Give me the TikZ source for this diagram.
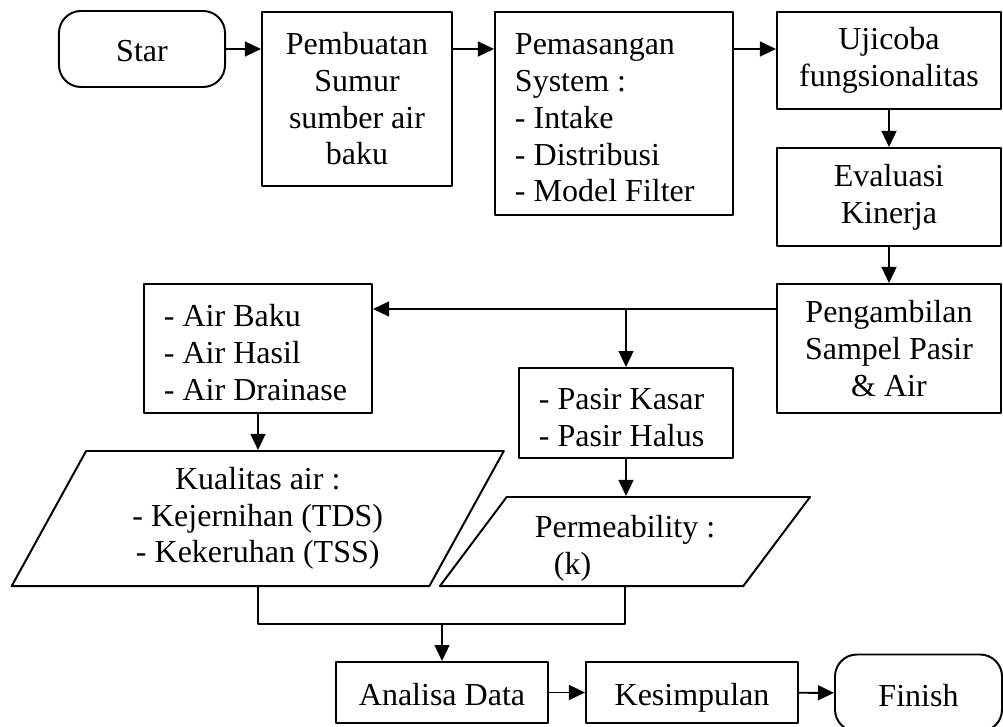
\documentclass[tikz,border=0pt]{standalone}
\usepackage{fontspec}
\setmainfont{Liberation Serif}
\usetikzlibrary{arrows.meta,shapes.geometric}
\tikzset{
  every picture/.style={line width=1.4pt, line join=round, >={Triangle[length=0.4cm,width=0.37cm]}},
  box/.style={draw, inner sep=0pt, align=center, font=\fontsize{22.76}{26.1}\selectfont,
    execute at begin node={\spaceskip=0pt\xspaceskip=0pt}},
  oneline/.style={box, text height=0.7cm, text depth=0.05cm},
  term/.style={oneline, rounded corners=0.55cm},
  listbox/.style={box, align=left, inner xsep=0.5cm},
  io/.style={box, trapezium, trapezium stretches body, trapezium left angle=#1, trapezium right angle={180-#1}},
}
\begin{document}
\begin{tikzpicture}[x=0.025cm,y=-0.025cm]
\useasboundingbox (0,0) rectangle (1003,727);
\node[term,minimum width=4.15cm,minimum height=1.9cm] (start) at (142,49) {Star};
\node[box,minimum width=4.75cm,minimum height=4.35cm] (sumur) at (357,99) {Pembuatan\\Sumur\\sumber air\\baku};
\node[listbox,text width=4.95cm,minimum height=5.075cm] (sistem) at (614,113.5) {\rule{0pt}{0.75cm}Pemasangan\\System :\\- Intake\\- Distribusi\\- Model Filter};
\node[box,minimum width=5.6cm,minimum height=2.425cm] (uji) at (889,60.5) {Ujicoba\\fungsionalitas};
\node[box,minimum width=5.6cm,minimum height=2.45cm] (eval) at (889,197) {Evaluasi\\Kinerja};
\node[box,minimum width=5.6cm,minimum height=3.225cm] (sampel) at (889,348.5) {Pengambilan\\Sampel Pasir\\\& Air};
\node[listbox,text width=4.7cm,minimum height=3.225cm] (air) at (258,348.5) {\rule{0pt}{0.75cm}- Air Baku\\- Air Hasil\\- Air Drainase};
\node[listbox,text width=4.35cm,minimum height=2.25cm] (pasir) at (626,413) {\rule{0pt}{0.75cm}- Pasir Kasar\\- Pasir Halus};
\node[io=54,minimum width=12.3cm,minimum height=3.375cm] (kualitas) at (257.75,518.5) {Kualitas air :\\- Kejernihan (TDS)\\- Kekeruhan (TSS)};
\node[io=50,minimum width=9.25cm,minimum height=2.225cm,align=left] (perm) at (625,541.5) {\rule{0pt}{0.9cm}Permeability :\\\hspace*{0.48cm}(k)};
\node[oneline,minimum width=5.3cm,minimum height=1.525cm] (analisa) at (442,692.5) {Analisa Data};
\node[oneline,minimum width=5.3cm,minimum height=1.525cm] (kesimpulan) at (692,692.5) {Kesimpulan};
\node[term,minimum width=4.175cm,minimum height=1.925cm] (finish) at (918.5,693) {Finish};
\coordinate (split) at (626,309);
\coordinate (join) at (442,624);
\draw[->] (start) -- (start -| sumur.west);
\draw[->] (start -| sumur.east) -- (start -| sistem.west);
\draw[->] (start -| sistem.east) -- (start -| uji.west);
\draw[->] (uji) -- (eval);
\draw[->] (eval) -- (sampel);
\draw[->] (sampel.west |- split) -- (air.east |- split);
\draw[->] (split) -- (pasir);
\draw[->] (air) -- (air |- kualitas.north);
\draw[->] (pasir) -- (pasir |- perm.north);
\draw (kualitas.south) |- (join) -| (perm.south);
\draw[->] (join) -- (analisa);
\draw[->] (analisa) -- (kesimpulan);
\draw[->] (kesimpulan) -- (finish);
\end{tikzpicture}
\end{document}
